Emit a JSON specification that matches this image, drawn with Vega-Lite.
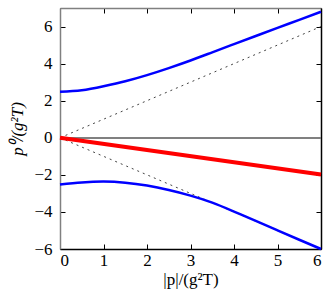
{
  "$schema": "https://vega.github.io/schema/vega-lite/v6.json",
  "autosize": "none",
  "width": 261,
  "height": 241,
  "padding": {"left": 60, "top": 8, "right": 6, "bottom": 46},
  "background": "white",
  "config": {
    "view": {"stroke": null},
    "axis": {
      "labelFont": "Liberation Serif",
      "titleFont": "Liberation Serif",
      "labelFontSize": 17,
      "titleFontSize": 17,
      "labelColor": "black",
      "titleColor": "black",
      "titleFontWeight": "normal",
      "grid": false,
      "tickSize": -5,
      "tickColor": "black",
      "tickWidth": 1,
      "domainWidth": 1.5
    }
  },
  "data": {
    "values": [
      {"s": "up", "p": 0, "v": 2.48},
      {"s": "up", "p": 0.5, "v": 2.56},
      {"s": "up", "p": 1, "v": 2.78},
      {"s": "up", "p": 1.5, "v": 3.05},
      {"s": "up", "p": 2, "v": 3.38},
      {"s": "up", "p": 2.5, "v": 3.76},
      {"s": "up", "p": 3, "v": 4.17},
      {"s": "up", "p": 3.5, "v": 4.61},
      {"s": "up", "p": 4, "v": 5.05},
      {"s": "up", "p": 4.5, "v": 5.49},
      {"s": "up", "p": 5, "v": 5.93},
      {"s": "up", "p": 5.5, "v": 6.36},
      {"s": "up", "p": 6, "v": 6.8},
      {"s": "lo", "p": 0, "v": -2.52},
      {"s": "lo", "p": 0.5, "v": -2.41},
      {"s": "lo", "p": 1, "v": -2.36},
      {"s": "lo", "p": 1.5, "v": -2.42},
      {"s": "lo", "p": 2, "v": -2.58},
      {"s": "lo", "p": 2.5, "v": -2.82},
      {"s": "lo", "p": 3, "v": -3.12},
      {"s": "lo", "p": 3.5, "v": -3.5},
      {"s": "lo", "p": 4, "v": -3.98},
      {"s": "lo", "p": 4.5, "v": -4.48},
      {"s": "lo", "p": 5, "v": -4.99},
      {"s": "lo", "p": 5.5, "v": -5.5},
      {"s": "lo", "p": 6, "v": -6.0},
      {"s": "red", "p": 0, "v": 0},
      {"s": "red", "p": 6, "v": -1.98},
      {"s": "dup", "p": 0, "v": 0},
      {"s": "dup", "p": 6, "v": 6},
      {"s": "dlo", "p": 0, "v": 0},
      {"s": "dlo", "p": 6, "v": -6}
    ]
  },
  "encoding": {
    "x": {"field": "p", "type": "quantitative", "scale": {"domain": [0, 6], "nice": false, "zero": false}},
    "y": {"field": "v", "type": "quantitative", "scale": {"domain": [-6, 7], "nice": false, "zero": false}}
  },
  "layer": [
    {
      "mark": {"type": "rule", "color": "#808080", "strokeWidth": 1.5},
      "encoding": {
        "y": {"datum": 0, "type": "quantitative",
          "axis": {"orient": "left", "values": [-6, -4, -2, 0, 2, 4, 6], "format": "d", "domainColor": "#808080", "labelFont": "Liberation Serif", "labelPadding": 13, "title": "p⁰/(g²T)", "titlePadding": 7, "titleFontStyle": "italic"}},
        "x": {"datum": 0, "type": "quantitative", "axis": null},
        "x2": {"datum": 6}
      }
    },
    {
      "transform": [{"filter": "datum.s == 'dup' || datum.s == 'dlo'"}],
      "mark": {"type": "line", "color": "#444", "strokeWidth": 1, "strokeDash": [2, 4]},
      "encoding": {
        "detail": {"field": "s"},
        "x": {"field": "p", "type": "quantitative",
          "axis": {"orient": "bottom", "values": [0, 1, 2, 3, 4, 5, 6], "domainColor": "black", "labelFont": "Liberation Serif", "labelPadding": 8, "title": "|p|/(g²T)", "titlePadding": 3}},
        "y": {"field": "v", "type": "quantitative", "axis": null}
      }
    },
    {
      "transform": [{"filter": "datum.s == 'up' || datum.s == 'lo'"}],
      "mark": {"type": "line", "color": "#0000ff", "strokeWidth": 2.5, "interpolate": "natural"},
      "encoding": {
        "detail": {"field": "s"},
        "x": {"field": "p", "type": "quantitative", "axis": {"orient": "top", "values": [0, 1, 2, 3, 4, 5, 6], "labels": false, "title": null, "domainColor": "#808080"}},
        "y": {"field": "v", "type": "quantitative", "axis": {"orient": "right", "values": [-6, -4, -2, 0, 2, 4, 6], "labels": false, "title": null, "domainColor": "black"}}
      }
    },
    {
      "transform": [{"filter": "datum.s == 'red'"}],
      "mark": {"type": "line", "color": "#ff0000", "strokeWidth": 4},
      "encoding": {
        "x": {"field": "p", "type": "quantitative", "axis": null},
        "y": {"field": "v", "type": "quantitative", "axis": null}
      }
    }
  ],
  "resolve": {"axis": {"x": "independent", "y": "independent"}}
}
